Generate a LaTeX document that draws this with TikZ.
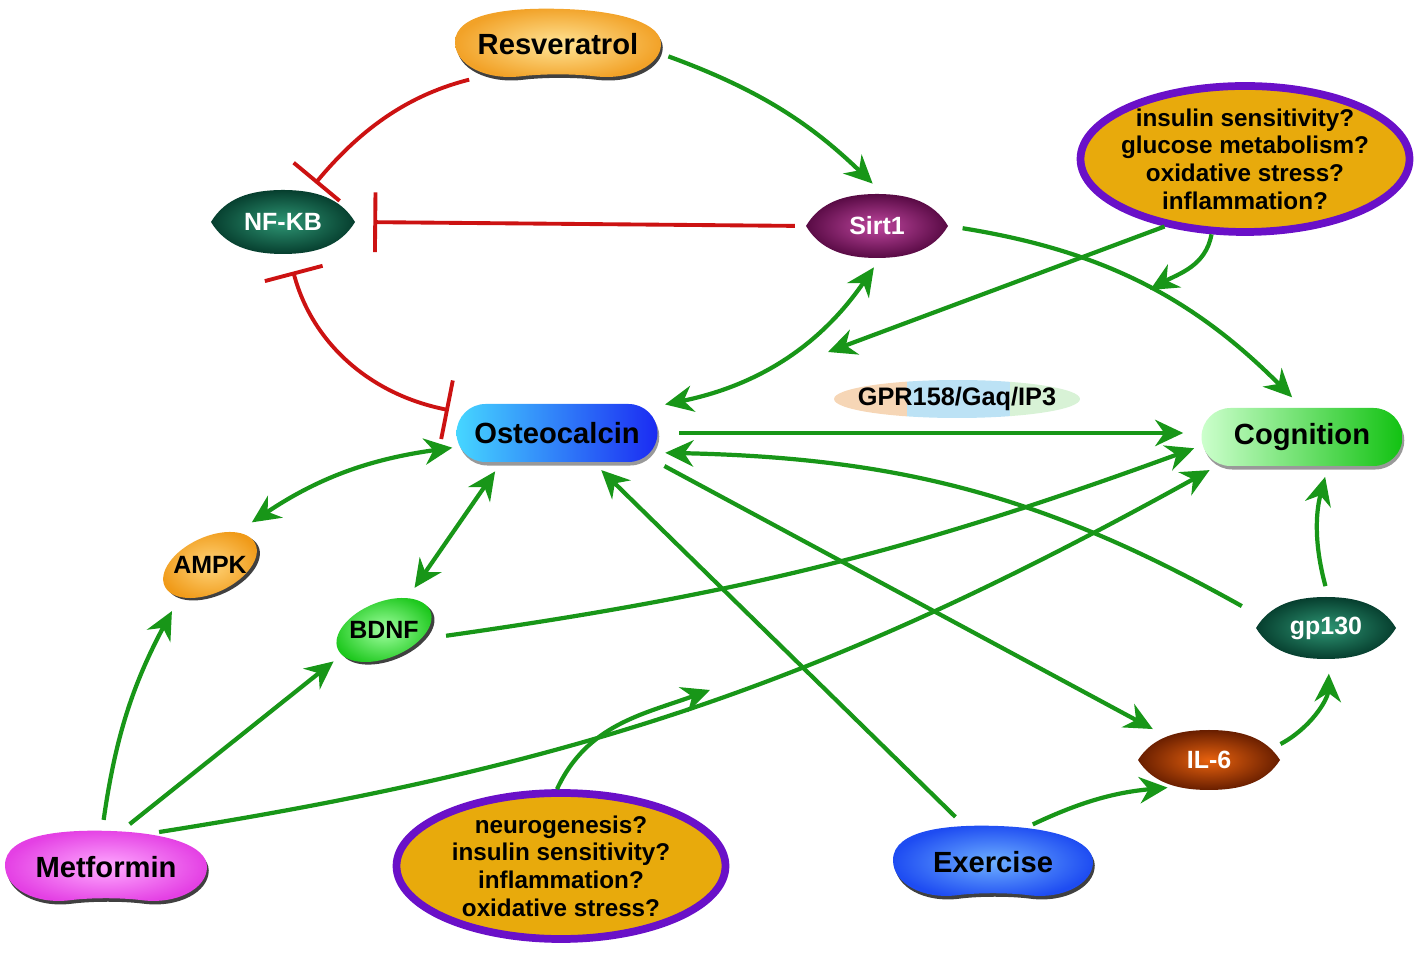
\documentclass[tikz,border=0pt]{standalone}
\usepackage{fontspec}
\setmainfont{Liberation Sans}
\usetikzlibrary{positioning,arrows.meta,shapes.geometric,backgrounds,shadows}

\definecolor{actgreen}{RGB}{24,150,24}
\definecolor{inhred}{RGB}{204,18,18}
\definecolor{qfill}{RGB}{232,170,12}
\definecolor{qline}{RGB}{106,16,200}
\definecolor{resin}{RGB}{255,228,150}
\definecolor{resout}{RGB}{242,162,40}
\definecolor{metin}{RGB}{255,170,255}
\definecolor{metout}{RGB}{228,64,228}
\definecolor{exin}{RGB}{110,176,255}
\definecolor{exout}{RGB}{30,76,242}
\definecolor{nfin}{RGB}{46,150,116}
\definecolor{nfout}{RGB}{6,62,46}
\definecolor{sirtin}{RGB}{190,70,158}
\definecolor{sirtout}{RGB}{88,10,68}
\definecolor{ilin}{RGB}{232,98,14}
\definecolor{ilout}{RGB}{104,30,0}
\definecolor{ampkin}{RGB}{255,212,122}
\definecolor{ampkout}{RGB}{240,154,24}
\definecolor{bdnfin}{RGB}{160,255,160}
\definecolor{bdnfout}{RGB}{30,200,30}
\definecolor{ostl}{RGB}{70,214,255}
\definecolor{ostr}{RGB}{27,43,242}
\definecolor{cogl}{RGB}{204,255,204}
\definecolor{cogr}{RGB}{18,194,18}
\definecolor{gprpeach}{RGB}{246,214,182}
\definecolor{gprblue}{RGB}{188,226,245}
\definecolor{gprgreen}{RGB}{216,242,214}

% bean shape: centre node, half width, half height, options
\newcommand{\bean}[4]{%
  \path[shift={(#1.center)},#4] (-#2,0.05*#3)
    .. controls (-#2,0.9*#3) and (-0.45*#2,1.05*#3) .. (0.05*#2,#3)
    .. controls (0.6*#2,0.95*#3) and (#2,0.6*#3) .. (#2,0)
    .. controls (#2,-0.6*#3) and (0.7*#2,-1.05*#3) .. (0.35*#2,-0.92*#3)
    .. controls (0.15*#2,-0.85*#3) and (-0.15*#2,-0.85*#3) .. (-0.35*#2,-0.92*#3)
    .. controls (-0.7*#2,-1.05*#3) and (-#2,-0.6*#3) .. cycle;}
% lens shape
\newcommand{\lens}[4]{%
  \path[shift={(#1.center)},#4] (-#2,0)
    .. controls (-0.8*#2,0.75*#3) and (-0.45*#2,#3) .. (0,#3)
    .. controls (0.45*#2,#3) and (0.8*#2,0.75*#3) .. (#2,0)
    .. controls (0.8*#2,-0.75*#3) and (0.45*#2,-#3) .. (0,-#3)
    .. controls (-0.45*#2,-#3) and (-0.8*#2,-0.75*#3) .. cycle;}
% tilted egg
\newcommand{\egg}[3]{%
  \path[shift={(#1.center)},rotate=#2,#3] (0,0) ellipse (0.50 and 0.28);}

\tikzset{
  >={Stealth[length=8pt,width=7.5pt]},
  act/.style={->, draw=actgreen, line width=1.2pt},
  dact/.style={<->, draw=actgreen, line width=1.2pt},
  inh/.style={-{Bar[width=17pt]}, draw=inhred, line width=1.1pt},
  dinh/.style={arrows={Bar[width=17pt]-Bar[width=17pt]}, draw=inhred, line width=1.1pt},
  hub/.style={ellipse, inner xsep=-3cm, inner ysep=-1cm,
    font=\bfseries\fontsize{8.3}{10}\selectfont},
  small/.style={ellipse, inner xsep=-3cm, inner ysep=-1cm, text=white,
    font=\bfseries\fontsize{7.1}{8}\selectfont},
  pill/.style={rectangle, rounded corners=0.29cm, inner sep=0pt,
    minimum width=2.01cm, minimum height=0.58cm,
    font=\bfseries\fontsize{8.3}{10}\selectfont,
    drop shadow={shadow xshift=0.5pt, shadow yshift=-1pt, opacity=0.8}},
  query/.style={ellipse, draw=qline, line width=2.2pt, fill=qfill,
    inner xsep=-3cm, inner ysep=-1cm, minimum width=3.29cm, minimum height=1.46cm,
    align=center, font=\bfseries\fontsize{6.9}{7.9}\selectfont},
  gprshape/.style={ellipse, inner xsep=-3cm, inner ysep=-1cm,
    minimum width=2.46cm, minimum height=0.38cm,
    font=\bfseries\fontsize{7.2}{8}\selectfont,
    path picture={
      \fill[gprpeach] (path picture bounding box.south west) rectangle
        ([xshift=0.73cm]path picture bounding box.north west);
      \fill[gprblue] ([xshift=0.73cm]path picture bounding box.south west) rectangle
        ([xshift=1.76cm]path picture bounding box.north west);
      \fill[gprgreen] ([xshift=1.76cm]path picture bounding box.south west) rectangle
        (path picture bounding box.north east);}},
}

\begin{document}
\begin{tikzpicture}
\useasboundingbox (0,0) rectangle (14.18,9.53);

% nodes
\node[hub, minimum width=2.06cm, minimum height=0.70cm] (res) at (5.58,9.09) {Resveratrol};
\node[small, minimum width=1.44cm, minimum height=0.64cm] (nf) at (2.83,7.31) {NF-KB};
\node[small, minimum width=1.42cm, minimum height=0.64cm] (sirt) at (8.77,7.27) {Sirt1};
\node[pill, left color=ostl, right color=ostr] (ost) at (5.57,5.20) {Osteocalcin};
\node[gprshape] (gpr) at (9.57,5.54) {GPR158/Gaq/IP3};
\node[pill, left color=cogl, right color=cogr] (cog) at (13.02,5.16) {Cognition};
\node[small, text=black, minimum width=1.1cm, minimum height=0.9cm] (ampk) at (2.10,3.88) {AMPK};
\node[small, text=black, minimum width=1.1cm, minimum height=0.9cm] (bdnf) at (3.84,3.23) {BDNF};
\node[small, minimum width=1.40cm, minimum height=0.62cm] (gp) at (13.26,3.25) {gp130};
\node[small, minimum width=1.42cm, minimum height=0.60cm] (il) at (12.09,1.93) {IL-6};
\node[hub, minimum width=2.02cm, minimum height=0.72cm] (met) at (1.06,0.86) {Metformin};
\node[hub, minimum width=2.00cm, minimum height=0.72cm] (ex) at (9.93,0.91) {Exercise};
\node[query] (q1) at (12.45,7.94) {insulin sensitivity?\\glucose metabolism?\\oxidative stress?\\inflammation?};
\node[query] (q2) at (5.61,0.87) {neurogenesis?\\insulin sensitivity?\\inflammation?\\oxidative stress?};

% node bodies
\begin{scope}[on background layer]
  \bean{res}{1.03}{0.35}{fill=black!75, xshift=0.5pt, yshift=-1pt}
  \bean{res}{1.03}{0.35}{inner color=resin, outer color=resout}
  \bean{met}{1.01}{0.36}{fill=black!75, xshift=0.5pt, yshift=-1pt}
  \bean{met}{1.01}{0.36}{inner color=metin, outer color=metout}
  \bean{ex}{1.00}{0.36}{fill=black!75, xshift=0.5pt, yshift=-1pt}
  \bean{ex}{1.00}{0.36}{inner color=exin, outer color=exout}
  \lens{nf}{0.72}{0.32}{inner color=nfin, outer color=nfout}
  \lens{sirt}{0.71}{0.32}{inner color=sirtin, outer color=sirtout}
  \lens{gp}{0.70}{0.31}{inner color=nfin, outer color=nfout}
  \lens{il}{0.71}{0.30}{inner color=ilin, outer color=ilout}
  \egg{ampk}{25}{fill=black!75, xshift=0.5pt, yshift=-1pt}
  \egg{ampk}{25}{inner color=ampkin, outer color=ampkout}
  \egg{bdnf}{22}{fill=black!75, xshift=0.5pt, yshift=-1pt}
  \egg{bdnf}{22}{inner color=bdnfin, outer color=bdnfout}
\end{scope}

% inhibition
\draw[inh, shorten <=8pt, shorten >=3pt] (res.205) to[bend right=18] (nf.50);
\draw[inh, shorten <=3pt, shorten >=5pt] (sirt.west) -- (nf.east);
\draw[dinh, shorten <=2pt, shorten >=5pt] (ost.168) to[bend left=32] (nf.-80);

% activation
\draw[act, shorten <=3pt, shorten >=4pt] (res.-5) to[bend left=12] (sirt.80);
\draw[act, shorten <=4pt, shorten >=4pt] (sirt.east) to[bend left=18] (cog.north);
\draw[dact, shorten <=2pt, shorten >=3pt] (ost.15) to[bend right=22] (sirt.-85);
\coordinate (c1) at (8.28,6.01);
\coordinate (c2) at (11.50,6.63);
\draw[act] (q1.220) -- (c1);
\draw[act] (q1.246) to[out=-100,in=30] (c2);
\draw[act, shorten <=6pt, shorten >=5pt] (ost.east) -- (ost.east -| cog.west);
\draw[dact, shorten <=1pt, shorten >=3pt] (ost.188) to[bend right=13] (ampk.48);
\draw[dact, shorten <=3pt, shorten >=1pt] (ost.208) -- (bdnf.54);
\draw[act, shorten <=2pt, shorten >=2pt] (bdnf.-7) to[bend right=6] (cog.185);
\draw[act, shorten <=3pt, shorten >=3pt] (met.96) to[bend left=10] (ampk.228);
\draw[act, shorten <=3pt, shorten >=2pt] (met.67) -- (bdnf.211);
\draw[act, shorten <=3pt, shorten >=2pt] (met.38) to[bend right=10] (cog.199);
\coordinate (c3) at (7.10,2.63);
\draw[act] (q2.93) to[out=65,in=200] (c3);
\draw[act, shorten <=4pt, shorten >=3pt] (ex.128) -- (ost.-39);
\draw[act, shorten <=2pt, shorten >=2pt] (ex.46) to[bend left=10] (il.218);
\draw[act, shorten <=2pt, shorten >=4pt] (ost.south east) -- (il.151);
\draw[act, shorten <=6pt, shorten >=2pt] (gp.170) to[bend right=14] (ost.-11);
\draw[act, shorten <=2pt, shorten >=4pt] (il.11) to[bend right=30] (gp.-84);
\draw[act, shorten <=3pt, shorten >=3pt] (gp.86) to[bend left=15] (cog.-49);
\end{tikzpicture}
\end{document}
